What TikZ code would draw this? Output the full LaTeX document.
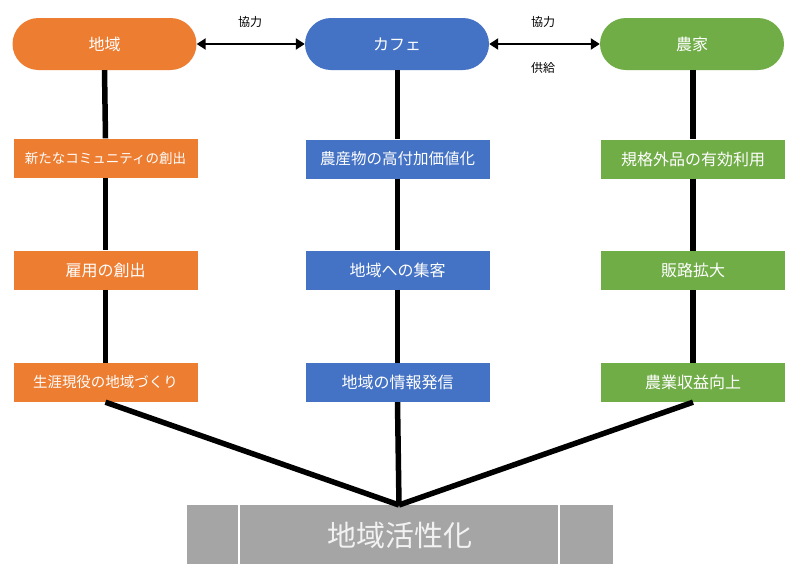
\documentclass[tikz,border=0pt]{standalone}
\usepackage{fontspec}
\setmainfont{Noto Sans CJK JP}
\usetikzlibrary{arrows.meta}
\definecolor{cOrange}{HTML}{ED7D31}
\definecolor{cBlue}{HTML}{4472C4}
\definecolor{cGreen}{HTML}{70AD47}
\definecolor{cGray}{HTML}{A5A5A5}
\begin{document}
\begin{tikzpicture}[x=1pt,y=-1pt,
  pill/.style={draw=none,rounded corners=26pt,minimum width=184pt,minimum height=52pt,inner sep=0pt,text=white,font=\fontsize{16}{19}\selectfont},
  item/.style={draw=none,minimum width=184pt,minimum height=39pt,inner sep=0pt,text=white,font=\fontsize{16}{19}\selectfont},
  conn/.style={line width=5.5pt},
  biarrow/.style={line width=2.8pt,{Triangle[length=9pt,width=11pt]}-{Triangle[length=9pt,width=11pt]}},
  lab/.style={font=\fontsize{12}{14}\selectfont,text=black,inner sep=0pt}]
\useasboundingbox (0,0) rectangle (793,563);
\fill[white] (0,0) rectangle (793,563);
% top terminators
\node[pill,fill=cOrange] (chiiki) at (104.5,44) {地域};
\node[pill,fill=cBlue] (cafe) at (397,44) {カフェ};
\node[pill,fill=cGreen] (nouka) at (692,44) {農家};
% boxes
\node[item,fill=cOrange,font=\fontsize{13.5}{16}\selectfont] (o1) at (105.5,158) {新たなコミュニティの創出};
\node[item,fill=cOrange] (o2) at (105.5,270) {雇用の創出};
\node[item,fill=cOrange,font=\fontsize{14.5}{17}\selectfont] (o3) at (105.5,382.5) {生涯現役の地域づくり};
\node[item,fill=cBlue,font=\fontsize{15.5}{18}\selectfont] (b1) at (397.5,159) {農産物の高付加価値化};
\node[item,fill=cBlue] (b2) at (397.5,270) {地域への集客};
\node[item,fill=cBlue] (b3) at (397.5,382.5) {地域の情報発信};
\node[item,fill=cGreen] (g1) at (693,159) {規格外品の有効利用};
\node[item,fill=cGreen] (g2) at (693,270.5) {販路拡大};
\node[item,fill=cGreen] (g3) at (693,382.5) {農業収益向上};
% bottom box
\node[draw=none,fill=cGray,minimum width=426pt,minimum height=60pt,inner sep=0pt,text=white!95!black,font=\fontsize{29}{34}\selectfont] (goal) at (400,535) {地域活性化};
\draw[white,line width=1.2pt] (239,505) -- (239,565) (559,505) -- (559,565);
\coordinate (hub) at (399,505);
% arrows
\draw[biarrow] (chiiki.east) -- (cafe.west);
\draw[biarrow] (cafe.east) -- (nouka.west);
\node[lab] (l1) at (250,22) {協力};
\node[lab] (l2) at (543,22) {協力};
\node[lab] (l3) at (543,68) {供給};
% vertical connectors
\draw[conn] (chiiki.south) -- (o1.north);
\draw[conn] (o1.south) -- (o2.north);
\draw[conn] (o2.south) -- (o3.north);
\draw[conn] (cafe.south -| b1.north) -- (b1.north);
\draw[conn] (b1.south) -- (b2.north);
\draw[conn] (b2.south) -- (b3.north);
\draw[conn] (nouka.south -| g1.north) -- (g1.north);
\draw[conn] (g1.south) -- (g2.north);
\draw[conn] (g2.south) -- (g3.north);
% converging lines
\draw[conn] (o3.south) -- (hub);
\draw[conn] (b3.south) -- (hub);
\draw[conn] (g3.south) -- (hub);
\end{tikzpicture}
\end{document}
